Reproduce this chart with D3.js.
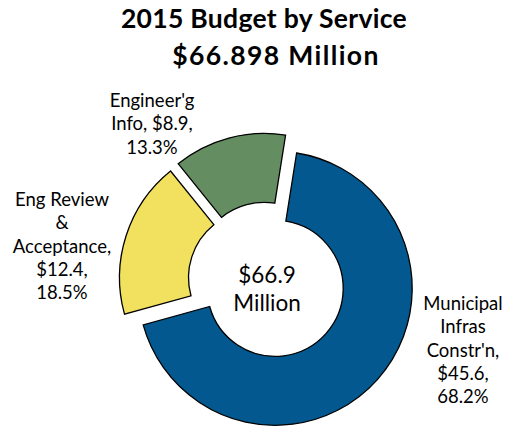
<!DOCTYPE html>
<html>
<head>
<meta charset="utf-8">
<script src="https://cdn.jsdelivr.net/npm/d3@7"></script>
<style>
  body { margin: 0; background: #fff; }
  text { font-family: Lato, "Open Sans", sans-serif; fill: #000; }
</style>
</head>
<body>
<div id="chart"></div>
<script>
// Data
const services = ["Municipal Infras Constr'n", "Eng Review & Acceptance", "Engineer'g Info"];
const amounts = [45.6, 12.4, 8.9];
const shares = [68.2, 18.5, 13.3];
const colors = ['#03598f', '#f2e05f', '#648e61'];
// label lines as they wrap in the picture
const labelLines = [
    ["Municipal", "Infras", "Constr'n,", "$45.6,", "68.2%"],
    ["Eng Review", "&", "Acceptance,", "$12.4,", "18.5%"],
    ["Engineer'g", "Info, $8.9,", "13.3%"]
];
const titleLines = ["2015 Budget by Service", "$66.898 Million"];
const centerLines = ["$66.9", "Million"];

// Dimensions
const width = 507;
const height = 432;
const cx = 267, cy = 281;
const outerR = 137, innerR = 68;
const explode = 11;
const lineH = 23.3;

const svg = d3.select('#chart')
    .append('svg')
    .attr('width', width)
    .attr('height', height);

// Title
svg.append('g')
    .selectAll('text')
    .data(titleLines)
    .enter()
    .append('text')
    .attr('x', (d, i) => i === 0 ? 264 : 276)
    .attr('y', (d, i) => 28 + i * 37)
    .attr('text-anchor', 'middle')
    .attr('font-size', 26.5)
    .attr('font-weight', 'bold')
    .attr('letter-spacing', (d, i) => i === 0 ? 0.3 : 1.4)
    .text(d => d);

const pieData = d3.pie()
    .sort(null)
    .startAngle(9 * Math.PI / 180)
    .endAngle(9 * Math.PI / 180 + 2 * Math.PI)
    .value(d => d)(shares);

const arc = d3.arc().innerRadius(innerR).outerRadius(outerR);

const g = svg.append('g').attr('transform', `translate(${cx}, ${cy})`);

g.selectAll('path')
    .data(pieData)
    .enter()
    .append('path')
    .attr('d', arc)
    .attr('fill', (d, i) => colors[i])
    .attr('stroke', '#000')
    .attr('stroke-width', 1.3)
    .attr('transform', d => {
        const mid = (d.startAngle + d.endAngle) / 2;
        return `translate(${Math.sin(mid) * explode}, ${-Math.cos(mid) * explode})`;
    });

// Center label
g.selectAll('.center')
    .data(centerLines)
    .enter()
    .append('text')
    .attr('class', 'center')
    .attr('x', 0)
    .attr('y', (d, i) => 2 + i * 28)
    .attr('text-anchor', 'middle')
    .attr('font-size', 22.5)
    .text(d => d);

// Slice labels (positions of each text block)
const labelPos = [
    { x: 463, y: 310 },
    { x: 62, y: 206 },
    { x: 152, y: 107 }
];

labelLines.forEach((lines, k) => {
    svg.append('g')
        .selectAll('text')
        .data(lines)
        .enter()
        .append('text')
        .attr('x', labelPos[k].x)
        .attr('y', (d, i) => labelPos[k].y + i * lineH)
        .attr('text-anchor', 'middle')
        .attr('font-size', 18.5)
        .text(d => d);
});
</script>
</body>
</html>
